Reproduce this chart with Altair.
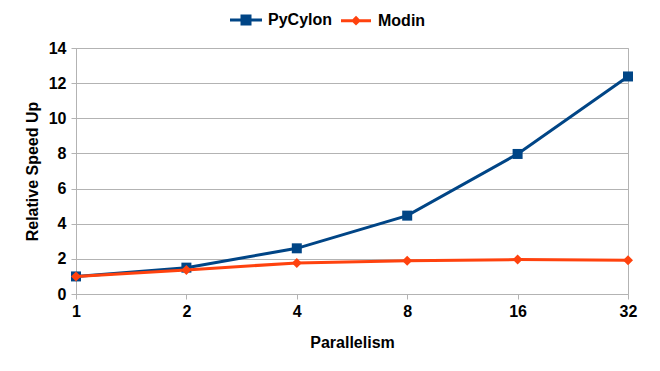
import altair as alt
import pandas as pd

# ---- data ----
parallelism = [1, 2, 4, 8, 16, 32]
pycylon = [1.0, 1.5, 2.6, 4.46, 7.97, 12.38]
modin = [1.0, 1.37, 1.77, 1.89, 1.96, 1.92]
series_names = ["PyCylon", "Modin"]
y_ticks = [0, 2, 4, 6, 8, 10, 12, 14]

# ---- style ----
colors = ["#004586", "#ff420e"]
legend_shapes = [
    "M-3.2,0H3.2M-0.8,-0.8H0.8V0.8H-0.8Z",
    "M-3.0,0H3.0M0,-0.55L0.55,0L0,0.55L-0.55,0Z",
]
FONT = "Liberation Sans"
GRID = "#b3b3b3"

txt = dict(
    labelFont=FONT,
    labelFontSize=16,
    labelFontWeight="bold",
    labelColor="#000000",
    titleFont=FONT,
    titleFontSize=16,
    titleFontWeight="bold",
    titleColor="#000000",
)

df = pd.DataFrame(
    {
        "Parallelism": parallelism * 2,
        "Speedup": pycylon + modin,
        "series": [series_names[0]] * len(parallelism) + [series_names[1]] * len(parallelism),
    }
)

x_enc = alt.X(
    "Parallelism:Q",
    scale=alt.Scale(type="log", base=2, domain=[1, 32], nice=False),
    axis=alt.Axis(
        values=parallelism,
        format="d",
        title="Parallelism",
        grid=False,
        domain=False,
        tickColor=GRID,
        tickSize=5,
        labelPadding=4,
        labelFlush=False,
        labelOverlap=False,
        titleY=53,
        titleBaseline="alphabetic",
        **txt,
    ),
)
y_enc = alt.Y(
    "Speedup:Q",
    scale=alt.Scale(domain=[0, 14], nice=False),
    axis=alt.Axis(
        values=y_ticks,
        title="Relative Speed Up",
        gridColor=GRID,
        domainColor=GRID,
        tickColor=GRID,
        tickSize=5,
        labelPadding=5,
        labelFlush=False,
        titleX=-39,
        titleY=123,
        titleAlign="center",
        titleBaseline="alphabetic",
        **txt,
    ),
)

base = alt.Chart(df)

layers = []
point_shapes = ["square", "diamond"]
for i, name in enumerate(series_names):
    sub = base.transform_filter(alt.datum.series == name)
    layers.append(
        sub.mark_line(color=colors[i], strokeWidth=3).encode(x=x_enc, y=y_enc)
    )
    layers.append(
        sub.mark_point(
            shape=point_shapes[i], filled=True, color=colors[i], size=100, opacity=1
        ).encode(x=x_enc, y=y_enc)
    )

legend_def = alt.Legend(
    title=None,
    orient="none",
    direction="horizontal",
    legendX=162,
    legendY=-36,
    symbolSize=100,
    symbolStrokeWidth=3,
    symbolOpacity=1,
    labelOffset=14,
    columnPadding=2,
    labelFont=FONT,
    labelFontSize=16,
    labelFontWeight="bold",
    labelColor="#000000",
    padding=0,
)
legend_layer = base.mark_point(filled=True, opacity=0).encode(
    x=x_enc,
    y=y_enc,
    fill=alt.Fill("series:N", scale=alt.Scale(domain=series_names, range=colors), legend=legend_def),
    stroke=alt.Stroke("series:N", scale=alt.Scale(domain=series_names, range=colors), legend=legend_def),
    shape=alt.Shape("series:N", scale=alt.Scale(domain=series_names, range=legend_shapes), legend=legend_def),
)

chart = (
    alt.layer(*layers, legend_layer)
    .properties(
        width=552,
        height=246,
        autosize=alt.AutoSizeParams(type="none"),
        padding={"left": 68, "top": 40, "right": 24, "bottom": 60},
        background="#ffffff",
    )
    .configure_view(stroke=GRID, strokeWidth=1)
)

chart.save("out.html", embed_options={"renderer": "svg", "actions": False})
